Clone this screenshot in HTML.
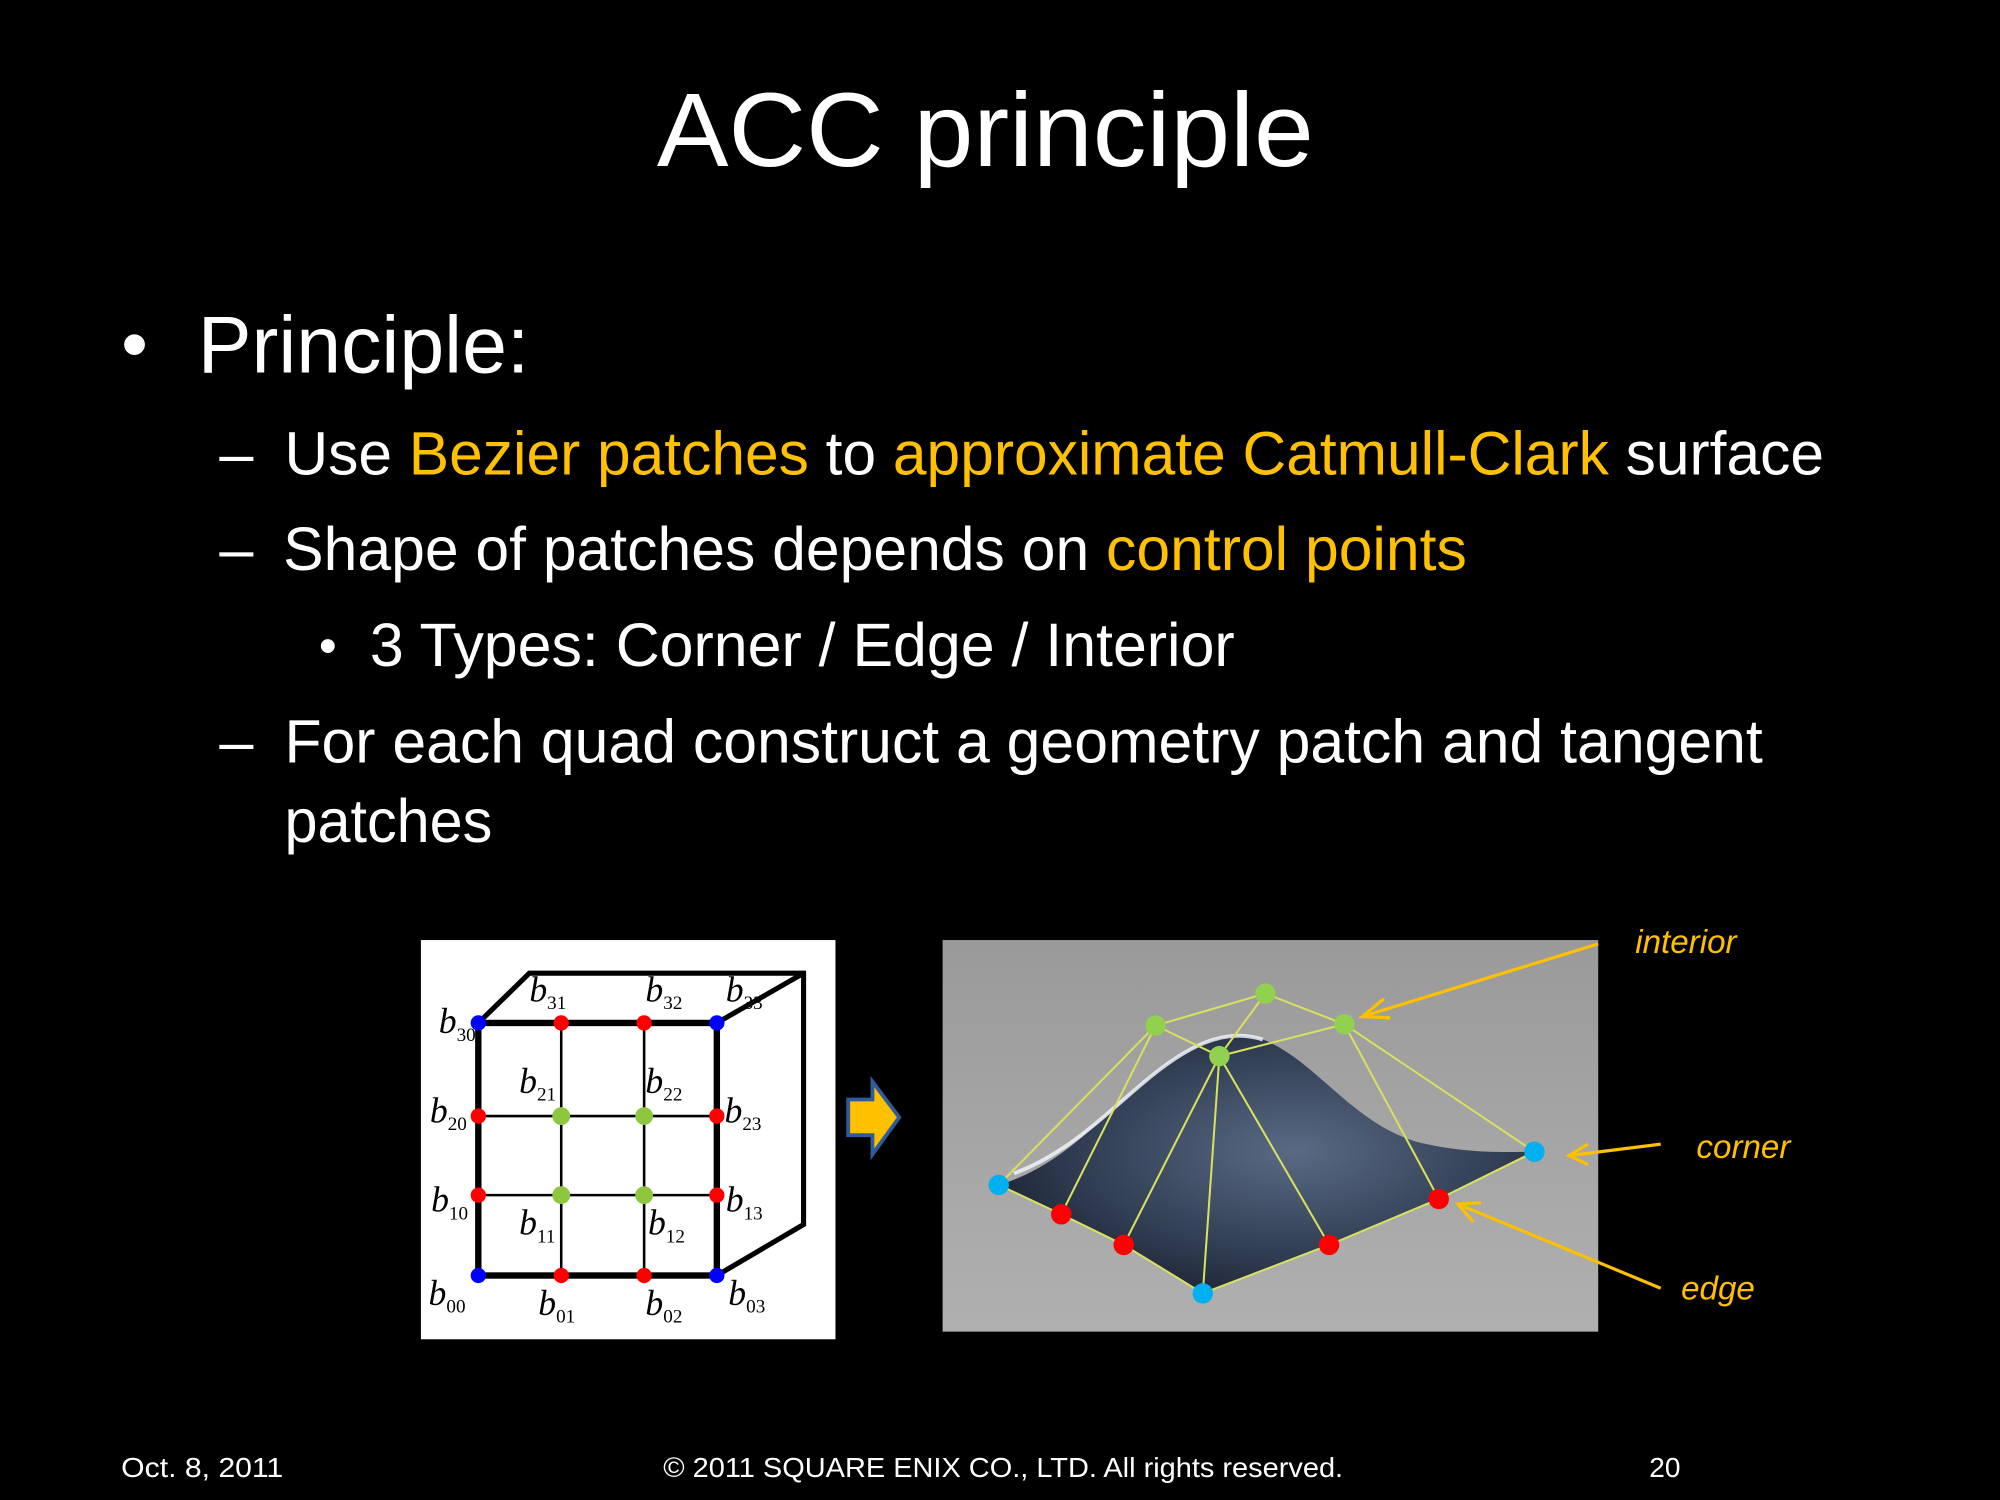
<!DOCTYPE html>
<html><head><meta charset="utf-8"><style>
html,body{margin:0;padding:0;background:#000;}
svg{display:block;}
text{font-family:"Liberation Sans",sans-serif;}
.s text{font-family:"Liberation Serif",serif;font-style:italic;fill:#000;}
.s tspan{font-style:normal;}
</style></head><body>
<svg width="2000" height="1500" viewBox="0 0 1568 1176" xmlns="http://www.w3.org/2000/svg">
<rect width="1568" height="1176" fill="#000"/>
<defs>
<radialGradient id="hill" cx="0.55" cy="0.45" r="0.6">
<stop offset="0" stop-color="#5a6a84"/><stop offset="0.6" stop-color="#344258"/><stop offset="1" stop-color="#1c2434"/>
</radialGradient>
<linearGradient id="bg" x1="0" y1="0" x2="0" y2="1"><stop offset="0" stop-color="#9a9a9a"/><stop offset="1" stop-color="#b0b0b0"/></linearGradient>
</defs>
<g fill="#fff">
<text x="515" y="130" font-size="82" textLength="515" lengthAdjust="spacingAndGlyphs">ACC principle</text>
<text x="95" y="290" font-size="60">•</text>
<text x="155" y="292" font-size="63" textLength="260" lengthAdjust="spacingAndGlyphs">Principle:</text>
<text x="172" y="372" font-size="48">–</text>
<text x="223" y="372" font-size="48" textLength="1207" lengthAdjust="spacingAndGlyphs">Use <tspan fill="#FFC000">Bezier patches</tspan>  to <tspan fill="#FFC000">approximate Catmull-Clark</tspan> surface</text>
<text x="172" y="447" font-size="48">–</text>
<text x="222" y="447" font-size="48" textLength="928" lengthAdjust="spacingAndGlyphs">Shape of patches depends on <tspan fill="#FFC000">control points</tspan></text>
<text x="250" y="520" font-size="40">•</text>
<text x="290" y="522" font-size="48" textLength="678" lengthAdjust="spacingAndGlyphs">3 Types: Corner / Edge / Interior</text>
<text x="172" y="598" font-size="48">–</text>
<text x="223" y="598" font-size="48" textLength="1159" lengthAdjust="spacingAndGlyphs">For each quad construct a geometry patch and tangent</text>
<text x="223" y="660" font-size="48" textLength="163" lengthAdjust="spacingAndGlyphs">patches</text>
<text x="95" y="1158" font-size="22" textLength="127" lengthAdjust="spacingAndGlyphs">Oct. 8, 2011</text>
<text x="520" y="1158" font-size="22" textLength="533" lengthAdjust="spacingAndGlyphs">© 2011 SQUARE ENIX CO., LTD. All rights reserved.</text>
<text x="1293" y="1158" font-size="22">20</text>
</g>
<rect x="330" y="737" width="325" height="313" fill="#fff"/>
<g stroke="#000" fill="none">
<path d="M375 802 L415 763 L630 763 L630 960 L562 1000 M562 802 L630 763" stroke-width="4"/>
<rect x="375" y="802" width="187" height="198" stroke-width="5"/>
<path d="M440 802V1000 M505 802V1000 M375 875H562 M375 937H562" stroke-width="2"/>
</g>
<g fill="#00f"><circle cx="375" cy="802" r="6"/><circle cx="562" cy="802" r="6"/><circle cx="375" cy="1000" r="6"/><circle cx="562" cy="1000" r="6"/></g>
<g fill="#f00"><circle cx="440" cy="802" r="6"/><circle cx="505" cy="802" r="6"/><circle cx="375" cy="875" r="6"/><circle cx="562" cy="875" r="6"/><circle cx="375" cy="937" r="6"/><circle cx="562" cy="937" r="6"/><circle cx="440" cy="1000" r="6"/><circle cx="505" cy="1000" r="6"/></g>
<g fill="#8dc63f"><circle cx="440" cy="875" r="7"/><circle cx="505" cy="875" r="7"/><circle cx="440" cy="937" r="7"/><circle cx="505" cy="937" r="7"/></g>
<g class="s" font-size="28">
<text x="344" y="810">b<tspan font-size="15" dy="6">30</tspan></text>
<text x="415" y="785">b<tspan font-size="15" dy="6">31</tspan></text>
<text x="506" y="785">b<tspan font-size="15" dy="6">32</tspan></text>
<text x="569" y="785">b<tspan font-size="15" dy="6">33</tspan></text>
<text x="337" y="880">b<tspan font-size="15" dy="6">20</tspan></text>
<text x="407" y="857">b<tspan font-size="15" dy="6">21</tspan></text>
<text x="506" y="857">b<tspan font-size="15" dy="6">22</tspan></text>
<text x="568" y="880">b<tspan font-size="15" dy="6">23</tspan></text>
<text x="338" y="950">b<tspan font-size="15" dy="6">10</tspan></text>
<text x="407" y="968">b<tspan font-size="15" dy="6">11</tspan></text>
<text x="508" y="968">b<tspan font-size="15" dy="6">12</tspan></text>
<text x="569" y="950">b<tspan font-size="15" dy="6">13</tspan></text>
<text x="336" y="1023">b<tspan font-size="15" dy="6">00</tspan></text>
<text x="422" y="1031">b<tspan font-size="15" dy="6">01</tspan></text>
<text x="506" y="1031">b<tspan font-size="15" dy="6">02</tspan></text>
<text x="571" y="1023">b<tspan font-size="15" dy="6">03</tspan></text>
</g>
<path d="M665 862 H684 V848 L705 876 L684 905 V890 H665 Z" fill="#FFC000" stroke="#2e5c9a" stroke-width="3"/>
<rect x="739" y="737" width="514" height="307" fill="url(#bg)"/>
<path d="M783 929 C830 915 860 880 895 850 C930 820 960 805 990 815 C1030 830 1060 880 1110 895 C1150 905 1180 903 1203 903 L1128 940 L1042 976 L943 1014 L881 976 L832 952 Z" fill="url(#hill)"/>
<path d="M795 920 C835 905 862 878 895 850 C930 820 960 805 990 815" stroke="#eef2f8" stroke-width="3" fill="none" opacity="0.85"/>
<g stroke="#d8e060" stroke-width="1.6" fill="none">
<path d="M783 929 L832 952 L881 976 L943 1014 L1042 976 L1128 940 L1203 903"/>
<path d="M783 929 L906 804 L992 779 L1054 803 L1203 903 M906 804 L956 828 L1054 803 M992 779 L956 828 M832 952 L906 804 M881 976 L956 828 L1042 976 M1128 940 L1054 803 M956 828 L943 1014"/>
</g>
<g fill="#00b0f0"><circle cx="783" cy="929" r="8"/><circle cx="1203" cy="903" r="8"/><circle cx="943" cy="1014" r="8"/></g>
<g fill="#f00"><circle cx="832" cy="952" r="8"/><circle cx="881" cy="976" r="8"/><circle cx="1042" cy="976" r="8"/><circle cx="1128" cy="940" r="8"/></g>
<g fill="#92d050"><circle cx="906" cy="804" r="8"/><circle cx="992" cy="779" r="8"/><circle cx="1054" cy="803" r="8"/><circle cx="956" cy="828" r="8"/></g>
<g stroke="#FFC000" stroke-width="2.5" fill="none">
<path d="M1253 740 L1068 797 M1085 783 L1068 797 L1090 798"/>
<path d="M1302 897 L1230 906 M1245 897 L1230 906 L1245 913"/>
<path d="M1302 1010 L1143 944 M1155 958 L1143 944 L1161 943"/>
</g>
<g fill="#FFC000" font-size="26" font-style="italic">
<text x="1282" y="747">interior</text>
<text x="1330" y="908">corner</text>
<text x="1318" y="1019">edge</text>
</g>
</svg>
</body></html>
